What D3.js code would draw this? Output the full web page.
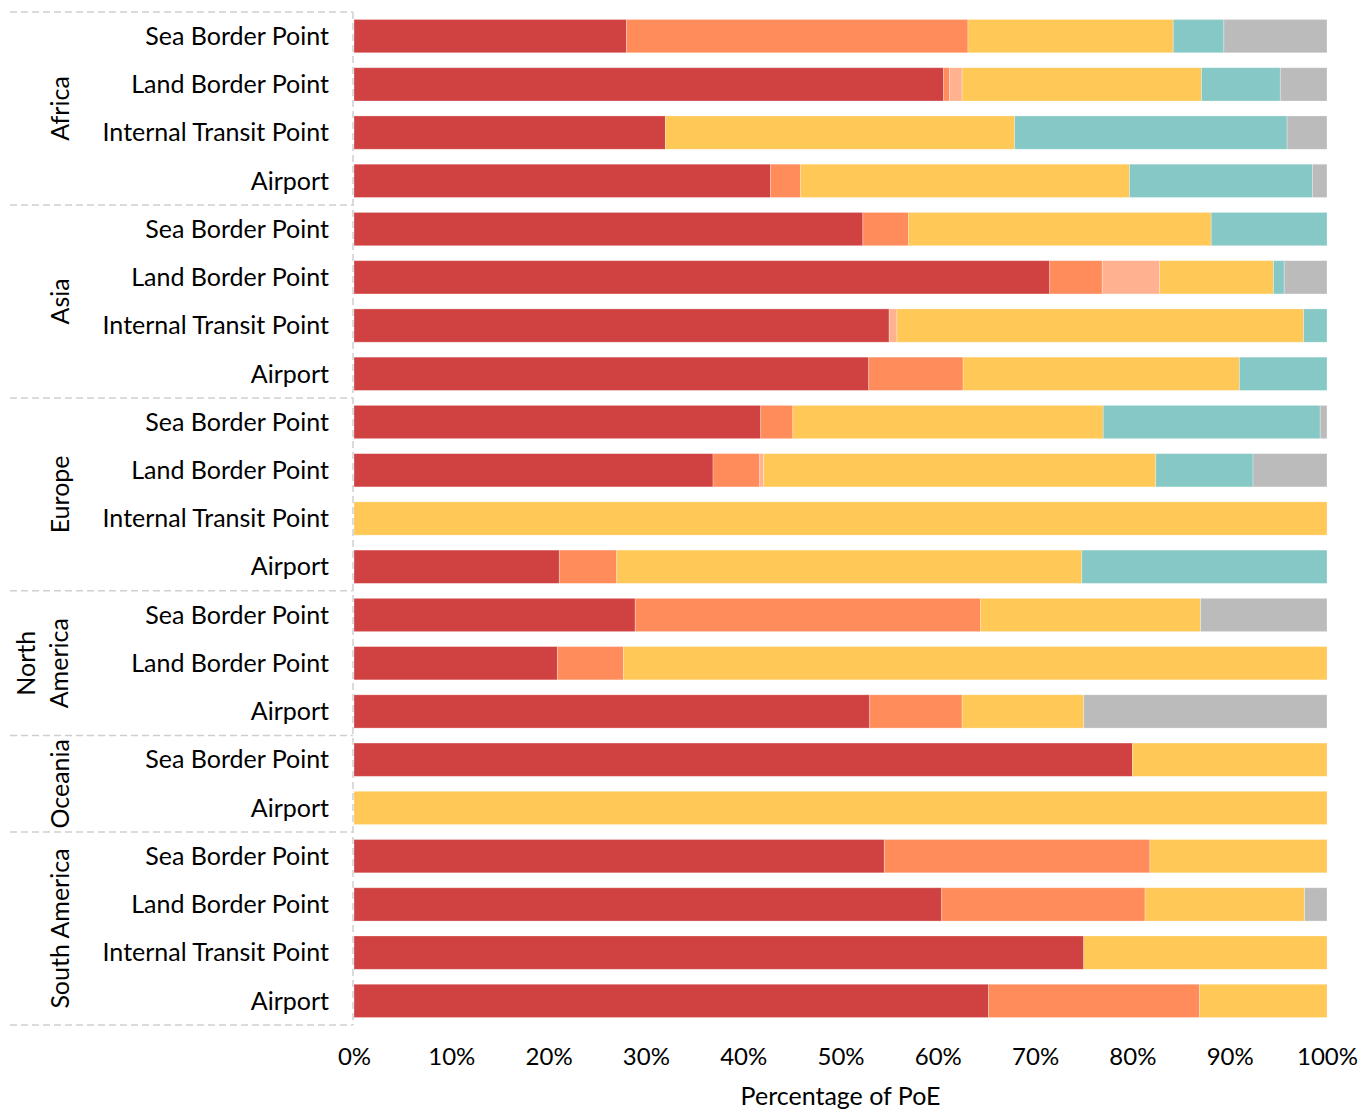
<!DOCTYPE html>
<html><head><meta charset="utf-8">
<script src="https://cdn.jsdelivr.net/npm/d3@7"></script>
<style>body{margin:0;background:#fff}svg{display:block}text{font-family:"Gill Sans","Gill Sans MT",Lato,"Open Sans",sans-serif;fill:#000}</style>
</head><body><svg id="c" width="1360" height="1109"></svg>
<script>
const regions = ["Africa","Asia","Europe","North America","Oceania","South America"];
const regionLines = {"Africa":["Africa"],"Asia":["Asia"],"Europe":["Europe"],"North America":["North","America"],"Oceania":["Oceania"],"South America":["South America"]};
const rowRegion = ["Africa","Africa","Africa","Africa","Asia","Asia","Asia","Asia","Europe","Europe","Europe","Europe","North America","North America","North America","Oceania","Oceania","South America","South America","South America","South America"];
const rowType = ["Sea Border Point","Land Border Point","Internal Transit Point","Airport","Sea Border Point","Land Border Point","Internal Transit Point","Airport","Sea Border Point","Land Border Point","Internal Transit Point","Airport","Sea Border Point","Land Border Point","Airport","Sea Border Point","Airport","Sea Border Point","Land Border Point","Internal Transit Point","Airport"];
const seriesNames = ["S1","S2","S3","S4","S5","S6"];
const seriesColors = ["#d04242","#ff8c5a","#ffb190","#ffc857","#85c8c5","#bbbbbb"];
const s1 = [28.0,60.6,32.0,42.8,52.3,71.5,55.0,52.9,41.8,36.9,0,21.1,28.9,20.9,53.0,80.0,0,54.5,60.4,75.0,65.2];
const s2 = [35.1,0.6,0,3.1,4.7,5.4,0,9.7,3.3,4.8,0,5.9,35.5,6.8,9.5,0,0,27.3,20.9,0,21.7];
const s3 = [0,1.3,0,0,0,5.9,0.8,0,0,0.4,0,0,0,0,0,0,0,0,0,0,0];
const s4 = [21.1,24.6,35.9,33.8,31.1,11.7,41.8,28.4,31.9,40.3,100,47.8,22.6,72.3,12.5,20.0,100,18.2,16.4,25.0,13.1];
const s5 = [5.2,8.1,28.0,18.8,11.9,1.1,2.4,9.0,22.3,10.0,0,25.2,0,0,0,0,0,0,0,0,0];
const s6 = [10.6,4.8,4.1,1.5,0,4.4,0,0,0.7,7.6,0,0,13.0,0,25.0,0,0,0,2.3,0,0];
const xTicks = [0,10,20,30,40,50,60,70,80,90,100];

const svg = d3.select("#c");
const L = 354, R = 1327, T = 12, B = 1025;
const rows = rowType.map((t,i)=>({i, region:rowRegion[i], type:t, vals:[s1[i],s2[i],s3[i],s4[i],s5[i],s6[i]]}));
const x = d3.scaleLinear().domain([0,100]).range([L,R]);
const y = d3.scaleBand().domain(d3.range(rows.length)).range([T,B]).paddingInner(0.31).paddingOuter(0.155);

const data = rows.map(r=>{const o={i:r.i}; seriesNames.forEach((s,k)=>o[s]=r.vals[k]); return o;});
const stack = d3.stack().keys(seriesNames)(data);

svg.append("g").selectAll("g").data(stack).join("g")
  .attr("fill",(d,k)=>seriesColors[k])
  .selectAll("rect").data(d=>d.filter(p=>p[1]-p[0]>0)).join("rect")
  .attr("x",p=>x(p[0])).attr("width",p=>x(p[1])-x(p[0]))
  .attr("y",p=>y(p.data.i)).attr("height",y.bandwidth())
  .attr("stroke","rgba(255,255,255,0.35)").attr("stroke-width",0.8);

// row labels
svg.append("g").selectAll("text").data(rows).join("text")
  .attr("x",329).attr("y",r=>y(r.i)+y.bandwidth()/2).attr("dy","0.35em")
  .attr("text-anchor","end").attr("font-size",25).text(r=>r.type);

// group separators
const step = y.step();
const groups = regions.map(g=>{const idx=rows.filter(r=>r.region===g).map(r=>r.i); return {g, a:d3.min(idx), b:d3.max(idx)};});
const bounds = [T].concat(groups.map(gr=>T+(gr.b+1)*step));
svg.append("g").selectAll("line").data(bounds).join("line")
  .attr("x1",10).attr("x2",353).attr("y1",d=>d).attr("y2",d=>d)
  .attr("stroke","#cfcfcf").attr("stroke-width",1.5).attr("stroke-dasharray","7,4");
svg.append("line").attr("x1",353).attr("x2",353).attr("y1",T).attr("y2",B)
  .attr("stroke","#cfcfcf").attr("stroke-width",1.5).attr("stroke-dasharray","7,4");

// group labels
groups.forEach(gr=>{
  const cy = T+(gr.a+gr.b+1)/2*step;
  const lines = regionLines[gr.g];
  const t = svg.append("text").attr("transform",`translate(${lines.length>1?44:60},${cy}) rotate(-90)`)
    .attr("text-anchor","middle").attr("font-size",25);
  lines.forEach((ln,k)=>t.append("tspan").attr("x",0).attr("dy",k===0?(lines.length>1?"-0.35em":"0.35em"):"1.3em").text(ln));
});

// x axis
const ax = svg.append("g").attr("transform",`translate(0,${B})`)
  .call(d3.axisBottom(x).tickValues(xTicks).tickFormat(d=>d+"%").tickSize(0).tickPadding(23));
ax.select(".domain").remove();
ax.selectAll("text").attr("font-size",24).attr("fill","#000").style("font-family",'"Gill Sans","Gill Sans MT",Lato,"Open Sans",sans-serif');
svg.append("text").attr("x",(L+R)/2).attr("y",1105).attr("text-anchor","middle").attr("font-size",25).text("Percentage of PoE");
</script></body></html>
